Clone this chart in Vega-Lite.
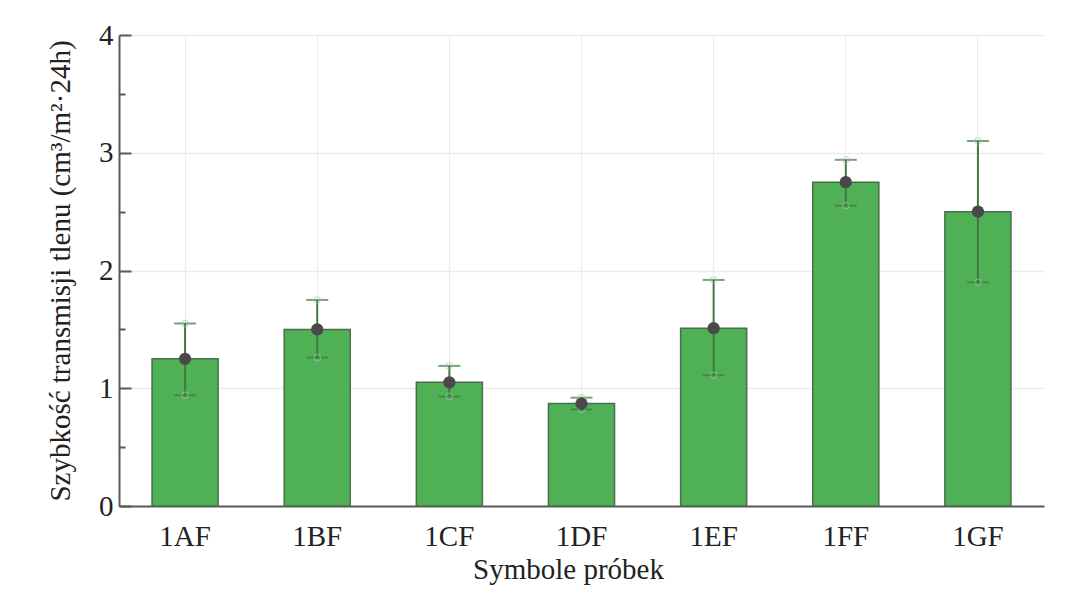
{
  "$schema": "https://vega.github.io/schema/vega-lite/v6.json",
  "width": 925,
  "height": 471,
  "autosize": {"type": "none"},
  "padding": {"left": 119, "top": 35, "right": 32, "bottom": 88},
  "background": "white",
  "config": {
    "font": "Liberation Serif",
    "view": {"stroke": null}
  },
  "data": {
    "values": [
      {"probka": "1AF", "wartosc": 1.25, "min": 0.94, "max": 1.55},
      {"probka": "1BF", "wartosc": 1.50, "min": 1.26, "max": 1.75},
      {"probka": "1CF", "wartosc": 1.05, "min": 0.93, "max": 1.19},
      {"probka": "1DF", "wartosc": 0.87, "min": 0.82, "max": 0.92},
      {"probka": "1EF", "wartosc": 1.51, "min": 1.11, "max": 1.92},
      {"probka": "1FF", "wartosc": 2.75, "min": 2.55, "max": 2.94},
      {"probka": "1GF", "wartosc": 2.50, "min": 1.90, "max": 3.10}
    ]
  },
  "encoding": {
    "x": {
      "field": "probka",
      "type": "nominal",
      "sort": null,
      "scale": {"paddingInner": 0.5, "paddingOuter": 0.25},
      "axis": {
        "title": "Symbole próbek",
        "titleFont": "Liberation Serif",
        "titleFontSize": 29,
        "titleFontWeight": "normal",
        "titleColor": "#222222",
        "titlePadding": 4,
        "titleX": 449,
        "labelAngle": 0,
        "labelFont": "Liberation Serif",
        "labelFontSize": 29,
        "labelColor": "#222222",
        "labelPadding": 16,
        "ticks": false,
        "domainColor": "#5a5a5a",
        "domainWidth": 2,
        "grid": true,
        "gridColor": "#ebebeb",
        "gridWidth": 1
      }
    }
  },
  "resolve": {"axis": {"y": "independent"}},
  "layer": [
    {
      "mark": {"type": "bar", "fill": "#4fb056", "stroke": "#4a6e4b", "strokeWidth": 1.5},
      "encoding": {
        "y": {
          "field": "wartosc",
          "type": "quantitative",
          "scale": {"domain": [0, 4], "nice": false},
          "axis": {
            "orient": "left",
            "title": "Szybkość transmisji tlenu (cm³/m²·24h)",
            "titleFont": "Liberation Serif",
            "titleFontSize": 29,
            "titleFontWeight": "normal",
            "titleColor": "#222222",
            "titlePadding": 23,
            "values": [0, 1, 2, 3, 4],
            "format": "d",
            "labelFont": "Liberation Serif",
            "labelFontSize": 29,
            "labelColor": "#222222",
            "labelPadding": 18,
            "tickSize": -12,
            "tickColor": "#5a5a5a",
            "tickWidth": 2,
            "domainColor": "#5a5a5a",
            "domainWidth": 2,
            "grid": true,
            "gridColor": "#ebebeb",
            "gridWidth": 1.5
          }
        }
      }
    },
    {
      "mark": {"type": "rule", "color": "#3e7a40", "strokeWidth": 2},
      "encoding": {
        "y": {"field": "min", "type": "quantitative", "axis": null},
        "y2": {"field": "max"}
      }
    },
    {
      "mark": {"type": "tick", "color": "#3e7a40", "thickness": 2, "size": 22},
      "encoding": {"y": {"field": "min", "type": "quantitative", "axis": null}}
    },
    {
      "mark": {"type": "tick", "color": "#3e7a40", "thickness": 2, "size": 22},
      "encoding": {"y": {"field": "max", "type": "quantitative", "axis": null}}
    },
    {
      "mark": {"type": "point", "shape": "circle", "filled": false, "stroke": "#a9c7a9", "strokeWidth": 1, "size": 45},
      "encoding": {"y": {"field": "max", "type": "quantitative", "axis": null}}
    },
    {
      "mark": {"type": "point", "shape": "circle", "filled": false, "stroke": "#a9c7a9", "strokeWidth": 1, "size": 45},
      "encoding": {"y": {"field": "min", "type": "quantitative", "axis": null}}
    },
    {
      "mark": {"type": "point", "shape": "circle", "filled": true, "color": "#4b474b", "opacity": 1, "size": 150},
      "encoding": {
        "y": {
          "field": "wartosc",
          "type": "quantitative",
          "axis": {
            "orient": "left",
            "title": null,
            "values": [0.5, 1.5, 2.5, 3.5],
            "labels": false,
            "domain": false,
            "grid": false,
            "tickSize": -6,
            "tickColor": "#5a5a5a",
            "tickWidth": 2
          }
        }
      }
    }
  ]
}
